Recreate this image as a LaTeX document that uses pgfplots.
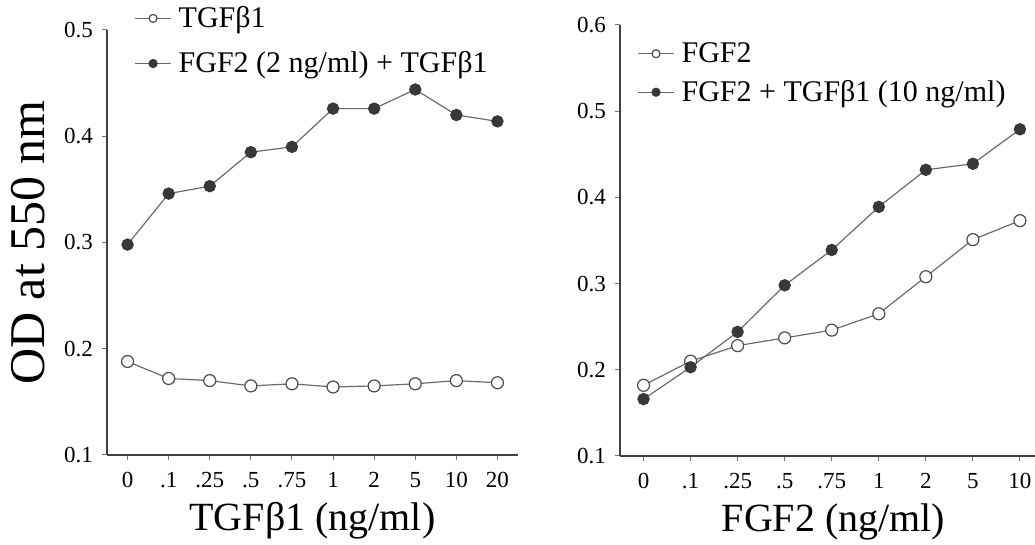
\documentclass[border=0pt]{standalone}
\usepackage{fontspec}
\setmainfont{Liberation Serif}
\usepackage{pgfplots}
\pgfplotsset{compat=1.18}
\definecolor{linegray}{gray}{0.42}
\definecolor{markdark}{gray}{0.22}
\pgfplotsset{
  panel/.style={
    scale only axis,
    clip=false,
    axis x line*=bottom, axis y line*=left,
    axis line style={-, black!75, line width=0.8pt},
    tick style={black!55, line width=0.5pt},
    tick align=outside,
    major tick length=2.5pt,
    ticklabel style={font=\fontsize{11.5}{13}\selectfont},
    xticklabel style={yshift=-2.5pt},
    /pgf/number format/assume math mode=true,
    yticklabel style={xshift=-1pt,/pgf/number format/fixed,/pgf/number format/precision=1,/pgf/number format/fixed zerofill},
    every axis x label/.style={at={(axis description cs:0.5,0)}, anchor=center, yshift=-33pt, font=\fontsize{20}{22}\selectfont},
    legend style={draw=none, fill=none, font=\fontsize{15}{17}\selectfont, inner sep=0pt, anchor=north west},
    legend cell align=left,
    legend image code/.code={\draw[mark repeat=2,mark phase=2,#1,mark size=2pt] plot coordinates {(0pt,0pt) (9pt,0pt) (18pt,0pt)}; \path (19.5pt,0pt);},
  },
  openser/.style={color=linegray, line width=0.6pt, mark=*, mark size=3pt, mark options={fill=white, draw=black!70, line width=0.6pt}},
  fillser/.style={color=linegray, line width=0.6pt, mark=*, mark size=2.8pt, mark options={fill=markdark, draw=markdark}},
}
\begin{document}
\begin{tikzpicture}
\useasboundingbox (0pt,0pt) rectangle (517.5pt,272.5pt);
\begin{axis}[panel,
  at={(53.5pt,45pt)}, anchor=south west,
  width=205.5pt, height=212.5pt,
  xmin=-0.5, xmax=9.5, ymin=0.1, ymax=0.5,
  xtick={0,1,2,3,4,5,6,7,8,9},
  xticklabels={0,.1,.25,.5,.75,1,2,5,10,20},
  ytick={0.1,0.2,0.3,0.4,0.5},
  xlabel={TGFβ1 (ng/ml)},
  ylabel={OD at 550 nm},
  every axis y label/.style={at={(axis description cs:-0.192,0.5)}, rotate=90, anchor=center, font=\fontsize{25}{28}\selectfont},
  legend style={at={(axis description cs:0.066,1.066)}, row sep=6.5pt},
]
\addplot[openser] coordinates {(0,0.188)(1,0.172)(2,0.170)(3,0.165)(4,0.167)(5,0.164)(6,0.165)(7,0.167)(8,0.170)(9,0.168)};
\addlegendentry{TGFβ1}
\addplot[fillser] coordinates {(0,0.298)(1,0.346)(2,0.353)(3,0.385)(4,0.390)(5,0.426)(6,0.426)(7,0.444)(8,0.420)(9,0.414)};
\addlegendentry{FGF2 (2 ng/ml) + TGFβ1}
\end{axis}
\begin{axis}[panel,
  at={(310pt,44.5pt)}, anchor=south west,
  width=207.5pt, height=215.5pt,
  xmin=-0.5, xmax=8.32, ymin=0.1, ymax=0.6,
  xtick={0,1,2,3,4,5,6,7,8},
  xticklabels={0,.1,.25,.5,.75,1,2,5,10},
  ytick={0.1,0.2,0.3,0.4,0.5,0.6},
  xlabel={FGF2 (ng/ml)},
  x label style={xshift=3pt},
  legend style={at={(axis description cs:0.041,0.97)}, row sep=3.5pt},
]
\addplot[openser] coordinates {(0,0.182)(1,0.210)(2,0.228)(3,0.237)(4,0.246)(5,0.265)(6,0.308)(7,0.351)(8,0.373)};
\addlegendentry{FGF2}
\addplot[fillser] coordinates {(0,0.166)(1,0.203)(2,0.244)(3,0.298)(4,0.339)(5,0.389)(6,0.432)(7,0.439)(8,0.479)};
\addlegendentry{FGF2 + TGFβ1 (10 ng/ml)}
\end{axis}
\end{tikzpicture}
\end{document}
